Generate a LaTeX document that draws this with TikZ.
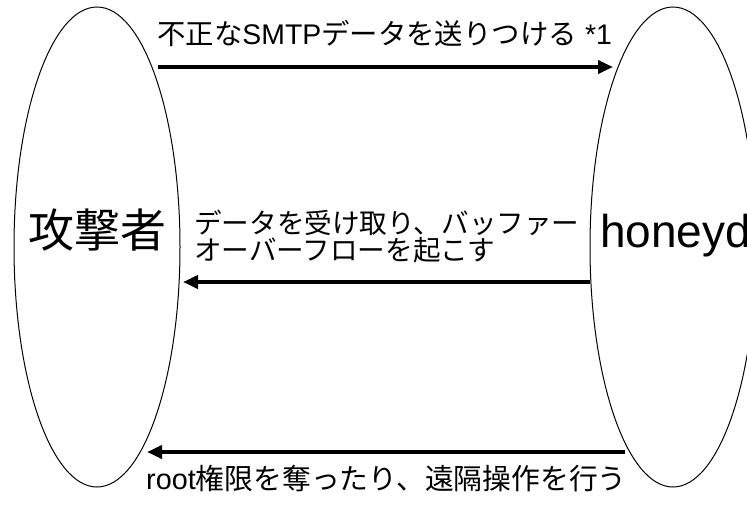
\documentclass[tikz,border=0pt]{standalone}
\usepackage{fontspec}
\setmainfont{Liberation Sans}
\newfontfamily\cjk{Noto Sans CJK JP}
\usetikzlibrary{shapes.geometric,arrows.meta}
\begin{document}
\begin{tikzpicture}[x=1pt,y=-1pt,
  party/.style={draw, ellipse, line width=1pt, minimum width=166pt, minimum height=480pt, inner sep=0pt},
  msg/.style={line width=4pt, -{Triangle[length=15pt,width=13pt]}},
  lbl/.style={inner sep=0pt, anchor=base west},
  big/.style={font=\fontsize{46}{50}\selectfont, inner sep=0pt}]
\useasboundingbox (0,0) rectangle (747,504);
\node[party] (att) at (97,247) {};
\node[party] (hon) at (673,247) {};
\node[big] (attl) at (97,230) {\cjk 攻撃者};
\node[big, anchor=base west] (honl) at (600,247) {honeyd};
% connectors
\coordinate (a1s) at (158,67);  \coordinate (a1e) at (613,67);
\coordinate (a2s) at (590,282); \coordinate (a2e) at (183,282);
\coordinate (a3s) at (625,452); \coordinate (a3e) at (147,452);
\draw[msg] (a1s) -- (a1e);
\draw[msg] (a2s) -- (a2e);
\draw[msg] (a3s) -- (a3e);
% labels
\node[lbl, font=\fontsize{28.4}{29}\selectfont] (t1) at (157,44) {{\cjk 不正な}SMTP{\cjk データを送りつける} *1};
\node[lbl, font=\fontsize{27.6}{28}\selectfont] (t2a) at (194,233) {\cjk データを受け取り、バッファー};
\node[lbl, font=\fontsize{27.6}{28}\selectfont] (t2b) at (194,260) {\cjk オーバーフローを起こす};
\node[lbl, font=\fontsize{28.8}{29}\selectfont] (t3) at (146,489) {root{\cjk 権限を奪ったり、遠隔操作を行う}};
\end{tikzpicture}
\end{document}
